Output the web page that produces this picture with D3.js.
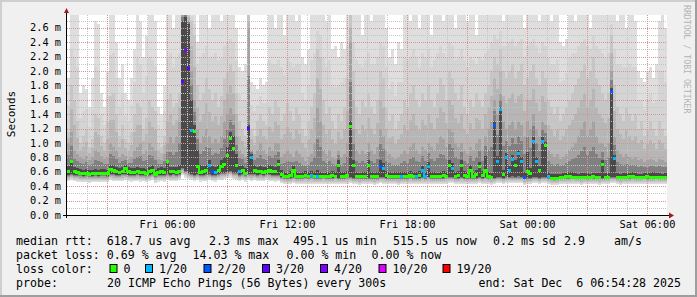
<!DOCTYPE html>
<html><head><meta charset="utf-8">
<script src="https://cdn.jsdelivr.net/npm/d3@7"></script>
<style>html,body{margin:0;padding:0;background:#f0f0f0;}svg{display:block}text{white-space:pre}</style>
</head><body><svg id="c" width="697" height="297"></svg>
<script>
// ---- data (microseconds), one column per 9-minute slot starting Fri 01:00 ----
const median = [600,740,600,590,580,570,575,565,570,575,
 570,580,575,570,630,620,600,595,600,640,
 600,590,595,600,585,590,580,600,620,565,
 590,600,590,740,600,600,595,605,1860,2280,
 2040,1170,1160,680,590,600,620,690,600,590,
 620,670,700,820,1060,930,690,600,620,580,
 1200,800,620,600,610,590,600,620,610,600,
 700,560,540,530,545,620,530,535,540,545,
 540,550,540,530,530,540,535,530,545,540,
 690,540,535,545,1230,690,540,530,535,540,
 690,540,530,540,670,650,545,540,530,540,
 535,530,540,535,545,535,540,545,620,540,
 670,540,535,530,540,545,535,690,650,540,
 545,690,550,540,620,540,560,680,550,620,
 540,520,1250,750,1460,560,800,620,770,690,
 860,740,520,600,580,1020,750,620,1020,960,
 540,510,505,510,515,520,530,540,520,515,
 520,525,520,515,520,530,525,520,700,520,
 525,1710,780,520,515,525,520,530,535,525,
 520,515,520,530,525,520,515,525,520,525];
const loss = [0,0,0,0,0,0,0,0,0,0,
 0,0,0,0,0,0,0,0,0,0,
 0,0,0,0,0,0,0,0,0,0,
 0,0,0,0,0,0,0,0,3,4,
 3,1,0,0,0,0,0,1,2,1,
 0,0,0,0,0,0,0,1,0,0,
 3,1,0,0,0,0,0,0,0,0,
 0,0,0,0,0,0,0,0,0,0,
 0,1,0,1,0,0,0,0,0,0,
 0,0,0,0,0,0,0,0,0,0,
 0,0,0,0,2,1,0,0,0,0,
 0,1,0,0,0,0,1,0,1,1,
 1,0,0,0,0,0,0,0,1,0,
 0,0,0,0,0,0,0,0,0,0,
 0,0,2,1,1,0,1,1,1,0,
 1,1,2,0,0,1,1,0,1,0,
 1,0,0,0,0,0,0,0,0,0,
 0,0,0,0,0,0,0,0,0,0,
 0,2,1,0,0,0,0,0,0,0,
 0,0,0,0,0,0,0,0,0,0];
const smokeMax = [1900,2800,2800,2800,1700,1800,1750,1500,1900,2700,
 2650,1700,1500,2000,2800,2800,2400,1900,2100,1700,
 1600,1900,2300,2800,2700,2200,2500,2800,2800,2700,
 1500,1400,1800,2800,2800,2600,2800,2800,2800,2800,
 2800,2800,2800,2400,2800,2800,2800,2600,2800,2800,
 2800,2700,2800,2800,2800,2800,2600,2050,2000,2100,
 2800,1850,1800,1750,1900,1800,1850,2800,2800,2600,
 2800,2800,2500,2800,2800,2800,2700,2800,2200,2100,
 2300,2800,2800,2800,2800,2800,2700,2800,2300,2350,
 2200,2400,2300,2800,2800,2800,2800,2800,2500,2800,
 2800,2700,2800,2800,2800,2800,2600,2200,2300,2100,
 2400,2300,2800,2800,2700,2800,2800,2600,2800,2800,
 2800,2500,2800,2800,2800,2700,2800,2800,2800,2600,
 2800,2800,2800,2700,2800,2800,2500,2800,2800,2800,
 2800,2800,2800,2800,2800,2700,2800,2800,2800,2800,
 2800,2800,2600,2800,2800,2800,2800,2700,2800,2800,
 2800,2700,2800,2800,2400,2350,2450,2800,2800,2700,
 2800,2800,2800,2800,2600,2800,2800,2800,2800,2800,
 2800,2800,2800,2700,2800,2800,2600,2800,2800,2700,
 2000,1900,1850,2000,2050,1900,2100,2700,2800,2600];
const smokeHigh = [1150,1800,1600,1300,1000,1100,1200,950,1050,1400,
 1350,1100,1000,1300,1650,1700,1400,1100,1250,1050,
 1000,1150,1400,1550,1500,1200,1350,1600,1500,1450,
 1000,950,1100,1600,1700,1500,1550,1700,2800,2800,
 2800,2700,2500,1800,1600,1700,1900,1750,1600,1700,
 1500,1650,1900,2000,2100,2000,1700,1300,1200,1100,
 2800,1200,1100,1300,1400,1300,1250,1500,1400,1600,
 1500,1300,1400,1550,1450,1300,1500,1400,1200,1100,
 1300,1500,1700,2300,2200,1600,1400,1500,1300,1200,
 1400,1300,1500,1900,2800,2000,1500,1400,1600,1500,
 1700,1500,1400,1600,2000,1900,1500,1300,1400,1200,
 1300,1400,1600,1500,1700,1800,1600,1500,1700,1600,
 1800,1600,1500,1700,1900,1800,1600,2000,1900,1700,
 1600,1800,1500,1400,1600,1500,1700,1600,1500,1700,
 1800,2000,2200,2100,2300,2000,1900,2000,2100,1900,
 2000,2100,1800,1900,2000,2100,1900,1800,2000,1900,
 1600,1500,1400,1500,1300,1400,1500,1600,1700,1800,
 1900,2000,2100,1900,2000,2200,1900,1800,1700,1600,
 1700,2500,1800,1500,1400,1300,1500,1400,1300,1400,
 1200,1300,1100,1200,1300,1200,1100,1300,1200,1100];
const smokeMid = [1000,1150,900,850,800,780,820,760,800,900,
 880,820,780,800,1000,950,900,800,850,820,
 780,800,900,950,1000,850,900,1000,950,900,
 780,760,850,1000,1100,1000,1100,1300,2800,2800,
 2700,2000,1600,1200,1000,1100,1200,1100,1000,1050,
 1000,1100,1300,1400,1500,1400,1100,900,850,800,
 2600,900,850,900,1000,900,850,950,900,1000,
 1000,800,850,900,850,800,900,850,800,750,
 800,850,1000,1500,1300,900,850,900,800,780,
 900,800,850,1000,2400,1200,900,850,900,850,
 1000,900,850,950,1200,1100,900,850,800,780,
 800,850,900,850,950,1000,900,850,950,900,
 1000,950,900,1000,1100,1050,950,1200,1150,1000,
 950,1000,900,850,950,900,1000,1050,900,1100,
 1200,1300,1600,1400,1700,1300,1200,1250,1300,1200,
 1300,1250,1100,1300,1200,1400,1200,1100,1300,1250,
 900,850,800,850,780,800,850,900,950,1000,
 1100,1200,1300,1100,1200,1300,1100,1000,1000,950,
 1000,2000,1100,900,850,800,850,800,780,800,
 760,780,740,760,780,760,740,780,760,740];
const smokeCore = [680,760,660,650,640,630,640,620,630,640,
 630,640,640,630,700,690,660,650,660,700,
 660,650,650,660,650,650,640,660,690,630,
 650,660,650,760,660,660,660,700,2700,2750,
 2650,1600,1250,900,700,680,700,760,680,670,
 700,760,800,950,1150,1100,850,680,700,650,
 1250,850,690,670,680,660,670,690,680,670,
 760,620,600,590,610,680,600,590,600,610,
 600,610,600,620,600,590,600,595,610,600,
 760,600,595,610,1300,760,600,590,600,600,
 760,600,590,600,760,720,610,600,590,600,
 595,600,600,595,610,600,600,610,680,600,
 730,600,595,590,600,610,600,760,720,600,
 610,760,610,600,700,600,620,740,610,820,
 600,580,1300,820,1500,620,860,680,830,760,
 900,800,600,870,650,1080,800,680,1080,1020,
 600,570,565,570,575,580,590,600,600,580,
 575,580,585,580,575,590,585,580,760,580,
 585,1760,840,580,575,585,580,590,600,580,
 575,570,585,580,590,595,585,580,575,580];
const smokeMin = [470,480,470,465,460,455,460,450,455,460,
 455,460,460,455,480,475,470,470,475,480,
 470,465,470,475,465,470,460,470,480,450,
 465,470,465,480,470,475,470,480,560,520,
 500,480,470,480,465,470,475,480,470,465,
 480,490,500,510,520,500,490,470,480,465,
 480,475,480,470,475,470,480,475,470,465,
 470,440,430,425,430,440,430,425,430,435,
 430,435,430,425,430,435,430,425,430,435,
 430,425,430,435,440,430,425,420,430,425,
 430,425,420,430,440,435,430,425,430,425,
 420,430,425,430,435,430,425,430,435,430,
 435,430,425,430,425,430,435,440,440,430,
 430,435,430,425,430,425,430,440,430,435,
 425,420,430,440,440,430,445,440,445,440,
 445,440,420,430,425,440,440,430,440,440,
 425,420,415,420,425,430,425,430,435,430,
 425,420,425,430,425,430,425,420,430,425,
 430,440,440,425,420,430,425,430,435,430,
 425,430,435,430,425,430,435,430,425,430];
const lossLevels = [0, 1, 2, 3, 4, 10, 19];
const lossLabels = ["0", "1/20", "2/20", "3/20", "4/20", "10/20", "19/20"];
const lossColors = ["#26ff00", "#00b8ff", "#0059ff", "#5e00ff", "#7e00ff", "#dd00ff", "#ff0000"];
const yTickValues = [0,0.2,0.4,0.6,0.8,1.0,1.2,1.4,1.6,1.8,2.0,2.2,2.4,2.6];
const legendLines = [
  [["median rtt:  618.7 us avg",16],["2.3 ms max",209],["495.1 us min",293],["515.5 us now",393],["0.2 ms sd",493],["2.9",564],["am/s",614]],
  [["packet loss: 0.69 % avg",16],["14.03 % max",192.5],["0.00 % min",286.5],["0.00 % now",371.5]]
];
const probeText = "20 ICMP Echo Pings (56 Bytes) every 300s";
const endText = "end: Sat Dec  6 06:54:28 2025";

// ---- drawing ----
const W = 697, H = 297;
const svg = d3.select("#c");
const mono = "DejaVu Sans Mono";
const t0 = new Date(2025, 11, 5, 1, 0, 0), t1 = new Date(2025, 11, 6, 7, 0, 0);
const stepMs = 9 * 60 * 1000;
const times = median.map((_, i) => new Date(t0.getTime() + i * stepMs));
const x = d3.scaleTime().domain([t0, t1]).range([67, 667]);
const y = d3.scaleLinear().domain([0, 2.7778]).range([215, 15]);
const yu = v => y(v / 1000);

// background + bevel
svg.append("rect").attr("width", W).attr("height", H).attr("fill", "#f0f0f0");
svg.append("rect").attr("x",0).attr("y",0).attr("width",W).attr("height",2).attr("fill","#cfcfcf");
svg.append("rect").attr("x",0).attr("y",0).attr("width",2).attr("height",H).attr("fill","#cfcfcf");
svg.append("rect").attr("x",0).attr("y",H-2).attr("width",W).attr("height",2).attr("fill","#9e9e9e");
svg.append("rect").attr("x",W-2).attr("y",0).attr("width",2).attr("height",H).attr("fill","#9e9e9e");

svg.append("defs").append("clipPath").attr("id","plot").append("rect")
  .attr("x",67).attr("y",15).attr("width",600).attr("height",200);
svg.append("rect").attr("x",67).attr("y",15).attr("width",600).attr("height",200).attr("fill","#fff");

// smoke: stored quantile tops, with in-between shading levels for a smoother gradient
const plot = svg.append("g").attr("clip-path","url(#plot)").attr("shape-rendering","crispEdges");
const levelTop = [
  i => smokeMax[i],
  i => (smokeMax[i] + smokeHigh[i]) / 2,
  i => smokeHigh[i],
  i => (smokeHigh[i] + smokeMid[i]) / 2,
  i => smokeMid[i],
  i => (smokeMid[i] + smokeCore[i]) / 2,
  i => smokeCore[i]
];
const levelColor = ["#dedede", "#d4d4d4", "#c6c6c6", "#b6b6b6", "#a2a2a2", "#808080", "#4a4a4a"];
const levelLift = [0, 15, 30, 45, 60, 75, 90];
levelTop.forEach((topF, k) => {
  plot.append("g").selectAll("rect").data(times).join("rect")
    .attr("x", (d) => x(d))
    .attr("width", (d) => x(new Date(d.getTime() + stepMs)) - x(d))
    .attr("y", (d, i) => yu(topF(i)))
    .attr("height", (d, i) => {
      const bot = Math.min(smokeMin[i] + levelLift[k], median[i] - 15);
      return Math.max(0, yu(bot) - yu(topF(i)));
    })
    .attr("fill", levelColor[k]);
});

// grid
const gridG = svg.append("g").attr("shape-rendering","crispEdges");
const minorY = d3.range(1, 28).map(v => v / 10);
minorY.forEach(v => { if (Math.round(v*10) % 2) gridG.append("line").attr("x1",67).attr("x2",667)
  .attr("y1",Math.round(y(v))+0.5).attr("y2",Math.round(y(v))+0.5)
  .attr("stroke","#c4c4c4").attr("stroke-dasharray","1,1"); });
const hours = d3.timeHour.every(1).range(new Date(t0.getTime()+1), t1);
hours.forEach(h => { if (h.getHours() % 3) gridG.append("line").attr("y1",15).attr("y2",215)
  .attr("x1",Math.round(x(h))+0.5).attr("x2",Math.round(x(h))+0.5)
  .attr("stroke","#c4c4c4").attr("stroke-dasharray","1,1"); });
yTickValues.slice(1).forEach(v => gridG.append("line").attr("x1",67).attr("x2",667)
  .attr("y1",Math.round(y(v))+0.5).attr("y2",Math.round(y(v))+0.5)
  .attr("stroke","#d89494").attr("stroke-dasharray","1,1"));
hours.forEach(h => { if (h.getHours() % 3 === 0) gridG.append("line").attr("y1",15).attr("y2",215)
  .attr("x1",Math.round(x(h))+0.5).attr("x2",Math.round(x(h))+0.5)
  .attr("stroke","#d89494").attr("stroke-dasharray","1,1"); });

// median line coloured by loss
const colorFor = l => { let c = lossColors[0]; lossLevels.forEach((lv, j) => { if (l >= lv) c = lossColors[j]; }); return c; };
const medG = svg.append("g").attr("clip-path","url(#plot)").attr("shape-rendering","crispEdges");
times.forEach((d, i) => {
  const x0 = x(d), x1 = x(new Date(d.getTime() + stepMs));
  const ym = yu(median[i]);
  medG.append("rect").attr("x", x0).attr("width", x1 - x0).attr("y", ym - 1.5).attr("height", 3)
    .attr("fill", colorFor(loss[i]));
  if (i > 0 && loss[i] === loss[i-1]) {
    const yp = yu(median[i-1]);
    if (Math.abs(yp - ym) > 0.5 && Math.abs(yp - ym) < 7) {
      medG.append("rect").attr("x", x0 - 1).attr("width", 2)
        .attr("y", Math.min(yp, ym) - 1.5).attr("height", Math.abs(yp - ym) + 3)
        .attr("fill", colorFor(loss[i]));
    }
  }
});

// axes
const axG = svg.append("g").attr("shape-rendering","crispEdges");
axG.append("line").attr("x1",63).attr("x2",670).attr("y1",215.5).attr("y2",215.5).attr("stroke","#000");
axG.append("line").attr("x1",66.5).attr("x2",66.5).attr("y1",12).attr("y2",218).attr("stroke","#000");
svg.append("path").attr("d","M64,13 L69,13 L66.5,8 Z").attr("fill","#9b1c1c");
svg.append("path").attr("d","M669,212.5 L669,218.5 L674,215.5 Z").attr("fill","#9b1c1c");

// y labels
svg.append("g").selectAll("text").data(yTickValues).join("text")
  .attr("x", 61).attr("y", v => y(v) + 3.6).attr("text-anchor","end")
  .attr("font-family", mono).attr("font-size", 10.3).attr("fill","#000")
  .text(v => d3.format(".1f")(v) + " m");
// x labels
const labelTimes = hours.filter(h => h.getHours() % 6 === 0);
svg.append("g").selectAll("text").data(labelTimes).join("text")
  .attr("x", h => x(h) + 0.5).attr("y", 227.5).attr("text-anchor","middle")
  .attr("font-family", mono).attr("font-size", 10.3).attr("fill","#000")
  .text(d3.timeFormat("%a %H:%M"));

// y title
svg.append("text").attr("transform","translate(15,114) rotate(-90)").attr("text-anchor","middle")
  .attr("font-family", mono).attr("font-size", 11).attr("fill","#000").text("Seconds");
// watermark
svg.append("text").attr("transform","translate(684,5) rotate(90)").attr("text-anchor","start")
  .attr("font-family", mono).attr("font-size", 8.2).attr("fill","#b4b4b4").text("RRDTOOL / TOBI OETIKER");

// legend
const lg = svg.append("g").attr("font-family", mono).attr("font-size", 11.6).attr("fill","#000");
const base = [244.7, 258.7, 272.7, 286.7];
legendLines.forEach((line, r) => line.forEach(([t, px]) =>
  lg.append("text").attr("x", px).attr("y", base[r]).text(t)));
lg.append("text").attr("x",16).attr("y",base[2]).text("loss color:");
const boxX = [109.5, 145, 203.5, 262, 320, 378.5, 442.5];
lossLabels.forEach((lab, j) => {
  lg.append("rect").attr("x", boxX[j] + 0.5).attr("y", 264.5).attr("width", 7).attr("height", 8)
    .attr("fill", lossColors[j]).attr("stroke","#000").attr("stroke-width",1);
  lg.append("text").attr("x", boxX[j] + 14).attr("y", base[2]).text(lab);
});
lg.append("text").attr("x",16).attr("y",base[3]).text("probe:");
lg.append("text").attr("x",107).attr("y",base[3]).text(probeText);
lg.append("text").attr("x",681).attr("y",base[3]).attr("text-anchor","end").text(endText);
</script>
</body></html>
